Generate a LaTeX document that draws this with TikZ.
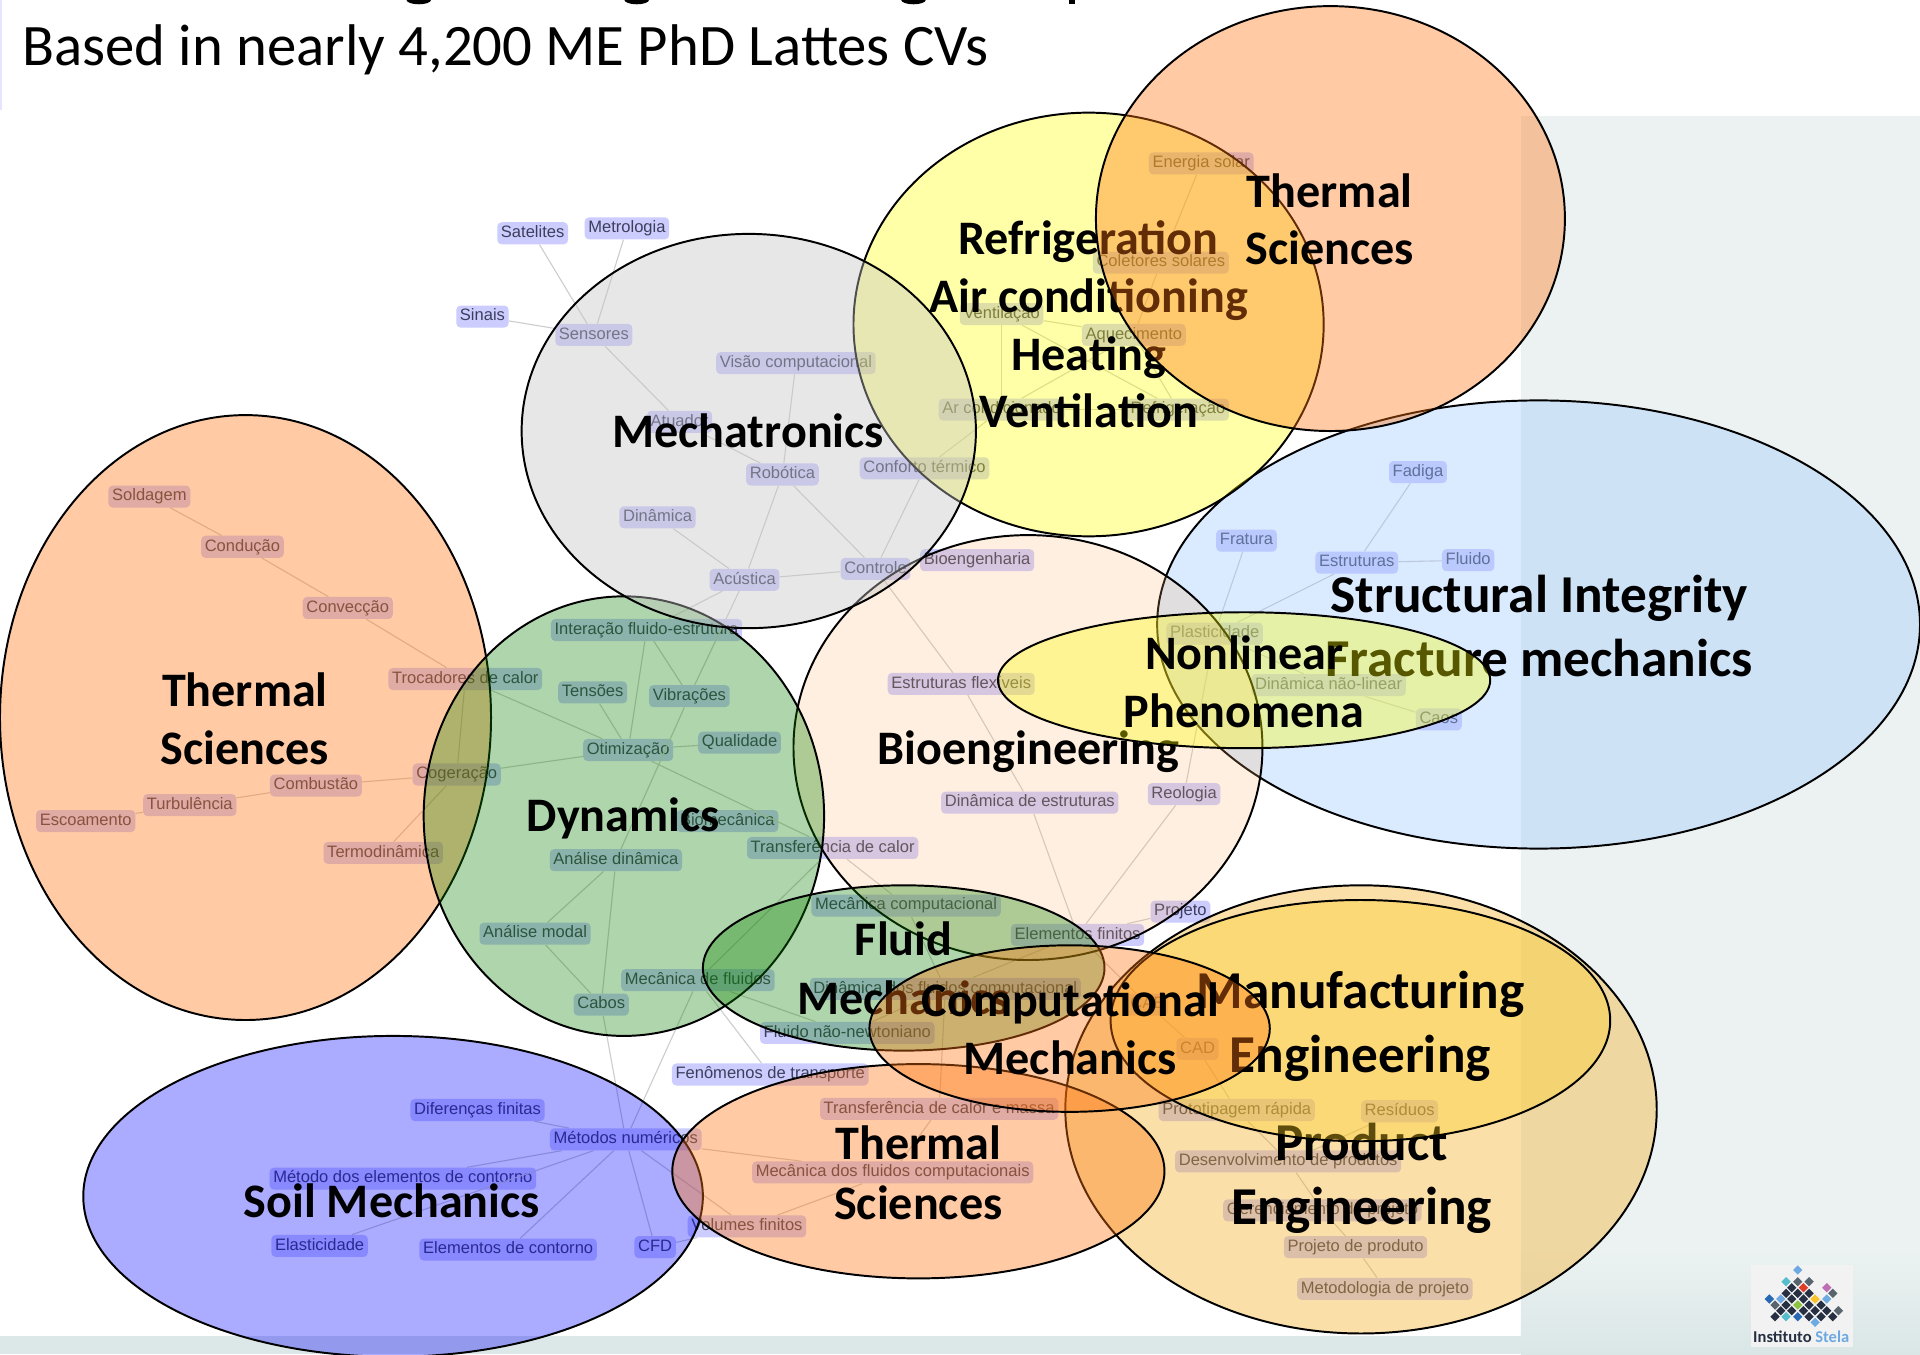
\documentclass[tikz,border=0pt]{standalone}
\usepackage{fontspec}
\setmainfont{Carlito}
\newfontfamily\termfont{Liberation Sans}
\definecolor{termfill}{RGB}{204,204,255}
\definecolor{termtext}{RGB}{62,62,92}
\definecolor{edgegray}{RGB}{205,205,205}
\definecolor{pageright}{RGB}{236,242,242}
\definecolor{pagebottom}{RGB}{218,230,230}
\definecolor{areaorange}{RGB}{255,118,16}
\definecolor{areagreen}{RGB}{12,130,0}
\definecolor{areablue}{RGB}{0,0,255}
\definecolor{areagray}{RGB}{197,197,197}
\definecolor{areayellow}{RGB}{255,255,0}
\definecolor{areasky}{RGB}{157,199,255}
\definecolor{areapeach}{RGB}{255,176,100}
\definecolor{areaproduct}{RGB}{246,170,24}
\definecolor{areamanuf}{RGB}{255,208,35}
\definecolor{logodark}{RGB}{38,48,66}
\definecolor{logogray}{RGB}{88,100,110}
\definecolor{logosky}{RGB}{110,170,225}
\definecolor{logocyan}{RGB}{85,190,205}
\definecolor{logoblue}{RGB}{40,105,180}
\definecolor{logored}{RGB}{225,60,40}
\definecolor{logopink}{RGB}{190,110,180}
\definecolor{logoyellow}{RGB}{250,195,40}
\definecolor{logogreen}{RGB}{140,195,60}
\tikzset{
  term/.style={fill=termfill,rounded corners=3.5pt,text=termtext,inner xsep=3pt,inner ysep=3pt,yshift=-1.5pt,
    text height=9.5pt,text depth=2.5pt,font=\termfont\fontsize{13.5}{15}\selectfont},
  link/.style={edgegray,line width=0.9},
  area/.style 2 args={draw=black,line width=1.6,fill=#1,fill opacity=#2},
  arealabel/.style={align=center,text=black,fill opacity=1,text opacity=1,font=\fontsize{39.3}{47}\selectfont\bfseries},
  biglabel/.style={align=center,text=black,fill opacity=1,text opacity=1,font=\fontsize{43.5}{52.5}\selectfont\bfseries},
}

\begin{document}
\begin{tikzpicture}[x=1pt,y=-1pt]
        \useasboundingbox (0,0) rectangle (1568,1105.8);
        \clip (0,0) rectangle (1568,1105.8);
        % page behind the graph
        \fill[white] (0,0) rectangle (1568,1105.8);
        \fill[pageright] (1242,95) rectangle (1568,1020);
        \shade[top color=pageright,bottom color=pagebottom] (1242,1020) rectangle (1568,1105.8);
        \fill[pagebottom!90!pageright] (0,1091) rectangle (1242,1105.8);
        \fill[blue!10] (0,0) rectangle (1.5,90);
        \fill[black] (342,0) ellipse[x radius=10,y radius=3.5];
        \fill[black] (520,0) ellipse[x radius=10,y radius=3.5];
        \fill[black] (746,0) ellipse[x radius=10,y radius=3.5];
        \fill[black] (873,0) rectangle (878,3.5);
        \node[anchor=west,inner sep=0,font=\fontsize{48}{54}\selectfont] (subtitle) at (18,41) {Based in nearly 4,200 ME PhD Lattes CVs};

        % terms
        \node[term] (satelites) at (435,189) {Satelites};
        \node[term] (metrologia) at (512,185) {Metrologia};
        \node[term] (sinais) at (394,257) {Sinais};
        \node[term] (sensores) at (485,272) {Sensores};
        \node[term] (visao) at (650,295) {Visão computacional};
        \node[term] (atuador) at (555,343) {Atuador};
        \node[term] (robotica) at (639,386) {Robótica};
        \node[term] (conforto) at (755,381) {Conforto térmico};
        \node[term] (dinamica) at (537,421) {Dinâmica};
        \node[term] (acustica) at (608,472) {Acústica};
        \node[term] (controle) at (715,463) {Controle};
        \node[term] (bioeng) at (798,456) {Bioengenharia};
        \node[term] (interacao) at (528,513) {Interação fluido-estrutura};
        \node[term] (tensoes) at (484,564) {Tensões};
        \node[term] (vibracoes) at (563,567) {Vibrações};
        \node[term] (otimizacao) at (513,611) {Otimização};
        \node[term] (qualidade) at (604,605) {Qualidade};
        \node[term] (biomec) at (594,669) {Biomecânica};
        \node[term] (transcalor) at (680,691) {Transferência de calor};
        \node[term] (anadin) at (503,701) {Análise dinâmica};
        \node[term] (anamodal) at (437,761) {Análise modal};
        \node[term] (mecfluidos) at (570,799) {Mecânica de fluidos};
        \node[term] (cabos) at (491,819) {Cabos};
        \node[term] (meccomp) at (740,738) {Mecânica computacional};
        \node[term] (elemfin) at (880,762) {Elementos finitos};
        \node[term] (projeto) at (964,743) {Projeto};
        \node[term] (dinfluidos) at (772,806) {Dinâmica dos fluidos computacional};
        \node[term] (naonewt) at (692,842) {Fluido não-newtoniano};
        \node[term] (fenomenos) at (629,876) {Fenômenos de transporte};
        \node[term] (metnum) at (511,929) {Métodos numéricos};
        \node[term] (diffin) at (390,905) {Diferenças finitas};
        \node[term] (metcontorno) at (329,961) {Método dos elementos de contorno};
        \node[term] (elasticidade) at (261,1016) {Elasticidade};
        \node[term] (elemcontorno) at (415,1019) {Elementos de contorno};
        \node[term] (cfd) at (535,1017) {CFD};
        \node[term] (volfin) at (610,1000) {Volumes finitos};
        \node[term] (calormassa) at (767,904) {Transferência de calor e massa};
        \node[term] (mfc) at (729,956) {Mecânica dos fluidos computacionais};
        \node[term] (soldagem) at (122,404) {Soldagem};
        \node[term] (conducao) at (198,445) {Condução};
        \node[term] (conveccao) at (284,495) {Convecção};
        \node[term] (trocadores) at (380,553) {Trocadores de calor};
        \node[term] (combustao) at (258,640) {Combustão};
        \node[term] (cogeracao) at (373,631) {Cogeração};
        \node[term] (turbulencia) at (155,656) {Turbulência};
        \node[term] (escoamento) at (70,669) {Escoamento};
        \node[term] (termodin) at (313,695) {Termodinâmica};
        \node[term] (estflex) at (785,557) {Estruturas flexíveis};
        \node[term] (dinest) at (841,654) {Dinâmica de estruturas};
        \node[term] (reologia) at (967,647) {Reologia};
        \node[term] (fadiga) at (1158,384) {Fadiga};
        \node[term] (fratura) at (1018,440) {Fratura};
        \node[term] (estruturas) at (1108,458) {Estruturas};
        \node[term] (fluido) at (1199,456) {Fluido};
        \node[term] (plasticidade) at (992,516) {Plasticidade};
        \node[term] (dinnl) at (1085,558) {Dinâmica não-linear};
        \node[term] (caos) at (1175,586) {Caos};
        \node[term] (solar) at (981,132) {Energia solar};
        \node[term] (coletores) at (948,213) {Coletores solares};
        \node[term] (ventilacao) at (818,255) {Ventilação};
        \node[term] (aquecimento) at (926,272) {Aquecimento};
        \node[term] (arcond) at (818,333) {Ar condicionado};
        \node[term] (refrig) at (962,333) {Refrigeração};
        \node[term] (cae) at (937,819) {CAE};
        \node[term] (cad) at (978,855) {CAD};
        \node[term] (prototipo) at (1010,905) {Prototipagem rápida};
        \node[term] (residuos) at (1143,906) {Resíduos};
        \node[term] (desenv) at (1052,947) {Desenvolvimento de produtos};
        \node[term] (gerencia) at (1080,987) {Gerenciamento de projeto};
        \node[term] (projproduto) at (1107,1017) {Projeto de produto};
        \node[term] (metodologia) at (1131,1051) {Metodologia de projeto};

        % links
        \foreach \a/\b in {satelites/sensores,metrologia/sensores,sinais/sensores,sensores/atuador,
            visao/robotica,atuador/robotica,robotica/controle,robotica/acustica,
            acustica/controle,dinamica/acustica,conforto/controle,controle/estflex,estflex/dinest,
            dinest/elemfin,reologia/elemfin,projeto/elemfin,acustica/interacao,acustica/vibracoes,
            interacao/otimizacao,interacao/vibracoes,vibracoes/anadin,tensoes/otimizacao,
            trocadores/otimizacao,cogeracao/otimizacao,qualidade/otimizacao,otimizacao/transcalor,
            transcalor/meccomp,anadin/anamodal,anadin/cabos,anamodal/cabos,cabos/metnum,
            mecfluidos/metnum,mecfluidos/transcalor,mecfluidos/naonewt,mecfluidos/fenomenos,
            meccomp/dinfluidos,dinfluidos/elemfin,dinfluidos/calormassa,dinfluidos/naonewt,
            metnum/diffin,metnum/metcontorno,metnum/elasticidade,metnum/elemcontorno,metnum/cfd,
            metnum/volfin,metnum/mfc,calormassa/mfc,mfc/volfin,cfd/volfin,
            soldagem/conducao,conducao/conveccao,conveccao/trocadores,trocadores/cogeracao,
            combustao/cogeracao,turbulencia/combustao,escoamento/turbulencia,cogeracao/termodin,
            fadiga/estruturas,fluido/estruturas,fratura/plasticidade,estruturas/plasticidade,
            plasticidade/dinnl,plasticidade/reologia,dinnl/caos,
            solar/coletores,coletores/aquecimento,ventilacao/aquecimento,ventilacao/refrig,
            ventilacao/arcond,arcond/aquecimento,arcond/refrig,aquecimento/refrig,arcond/conforto,
            elemfin/cae,cae/cad,cad/prototipo,prototipo/desenv,residuos/desenv,desenv/gerencia,
            gerencia/projproduto,projproduto/metodologia}
            \draw[link] (\a) -- (\b);

        % logo
        \fill[black!5] (1430,1033) rectangle (1513,1100);
        \begin{scope}[shift={(1421,1020.8)},x=0.2725pt,y=-0.2725pt]
            \foreach \px/\py/\c in {173/60/logosky,138/95/logocyan,173/95/logogray,207/95/logogray,
                190/113/logored,155/113/logodark,260/113/logopink,138/130/logodark,173/130/logodark,
                207/130/logodark,278/130/logogray,88/147/logoblue,122/147/logosky,155/147/logodark,
                190/147/logodark,225/147/logoyellow,260/147/logosky,105/165/logogray,138/165/logodark,
                173/165/logogreen,207/165/logodark,243/165/logodark,122/182/logodark,155/182/logodark,
                190/182/logodark,225/182/logodark,260/182/logodark,295/182/logogray,105/200/logodark,
                138/200/logocyan,173/200/logoblue,207/200/logodark,243/200/logodark,278/200/logodark,
                225/217/logosky}
                \fill[\c] (\px,\py-14) -- (\px+14,\py) -- (\px,\py+14) -- (\px-14,\py) -- cycle;
        \end{scope}
        \node[inner sep=0,font=\fontsize{13.5}{15}\selectfont\bfseries] (stela) at (1471,1092) {\textcolor{logodark}{Instituto} \textcolor{logosky}{Stela}};

        % areas, back to front
        \draw[area={areasky}{0.37}] (1256.5,510) ellipse[x radius=311.5,y radius=183]
            (1257,511) node[biglabel] (structural) {Structural Integrity\\Fracture mechanics};
        \draw[area={areapeach}{0.2}] (839.5,610.5) ellipse[x radius=191.5,y radius=173.5]
            (840,614) node[arealabel] (bio) {Bioengineering};
        \draw[area={areayellow}{0.34}] (1016,555.5) ellipse[x radius=201,y radius=55.5]
            (1016,557) node[arealabel] (nonlinear) {Nonlinear\\Phenomena};
        \draw[area={areaorange}{0.38}] (200.5,586) ellipse[x radius=200.5,y radius=247]
            (200,587) node[arealabel] (thermleft) {Thermal\\Sciences};
        \draw[area={areagreen}{0.33}] (509.5,666.5) ellipse[x radius=163.5,y radius=179.5]
            (509,668) node[arealabel] (dynamics) {Dynamics};
        \draw[area={areayellow}{0.34}] (889,265) ellipse[x radius=192,y radius=173]
            (889,265) node[arealabel] (refrigeration) {Refrigeration\\Air conditioning\\Heating\\Ventilation};
        \draw[area={areaorange}{0.38}] (1086.5,178.5) ellipse[x radius=191.5,y radius=173.5]
            (1086,179) node[arealabel] (thermtop) {Thermal\\Sciences};
        \draw[area={areagray}{0.4}] (611.5,352) ellipse[x radius=185.5,y radius=161]
            (611,352) node[arealabel] (mechatronics) {Mechatronics};
        \draw[area={areaproduct}{0.37}] (1111.5,906) ellipse[x radius=241.5,y radius=183]
            (1112,962.5) node[biglabel] (product) {Product\\Engineering};
        \draw[area={areamanuf}{0.37}] (1111,833.5) ellipse[x radius=204,y radius=98.5]
            (1111,838) node[biglabel] (manufacturing) {Manufacturing\\Engineering};
        \draw[area={areablue}{0.33}] (321,977) ellipse[x radius=253,y radius=131]
            (320,981) node[arealabel] (soil) {Soil Mechanics};
        \draw[area={areaorange}{0.38}] (750,956.5) ellipse[x radius=201,y radius=87.5]
            (750,958) node[arealabel] (thermbottom) {Thermal\\[2pt]Sciences};
        \draw[area={areagreen}{0.33}] (738,790.5) ellipse[x radius=164,y radius=67.5]
            (738,791) node[arealabel] (fluid) {Fluid\\[1pt]Mechanics};
        \draw[area={areaorange}{0.38}] (873.5,840) ellipse[x radius=163.5,y radius=68]
            (874,840) node[arealabel] (computational) {Computational\\Mechanics};
    \end{tikzpicture}
\end{document}
